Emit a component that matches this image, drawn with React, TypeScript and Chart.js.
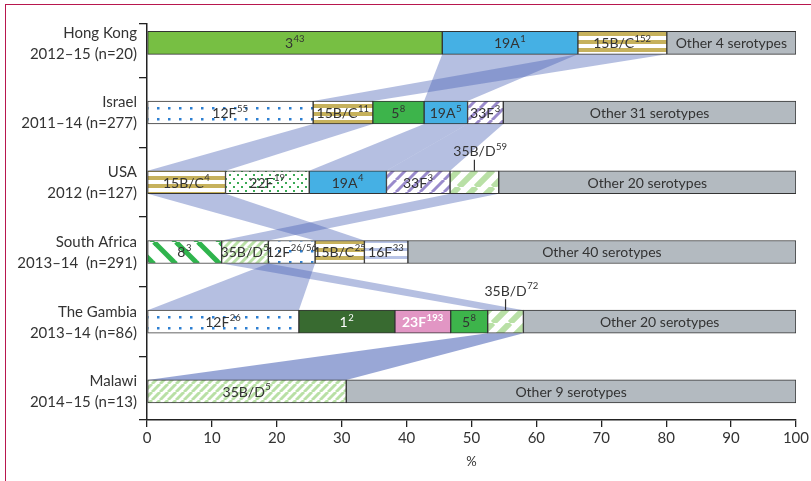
import { useEffect, useRef } from 'react'
import { Chart, registerables } from 'chart.js'

Chart.register(...registerables)

// serotype, superscript, % of isolates
type Seg = [string, string, number]

const FONT = 'Lato, "Open Sans", sans-serif'
const INK = '#333'

const countries = [
  ['Hong Kong', '2012–15 (n=20)'],
  ['Israel', '2011–14 (n=277)'],
  ['USA', '2012 (n=127)'],
  ['South Africa', '2013–14  (n=291)'],
  ['The Gambia', '2013–14 (n=86)'],
  ['Malawi', '2014–15 (n=13)'],
]

const hongKong: Seg[] = [['3', '43', 45.5], ['19A', '1', 20.9], ['15B/C', '152', 13.7], ['Other 4 serotypes', '', 19.9]]
const israel: Seg[] = [['12F', '55', 25.6], ['15B/C', '11', 9.2], ['5', '8', 7.9], ['19A', '5', 6.7], ['33F', '3', 5.5], ['Other 31 serotypes', '', 45.1]]
const usa: Seg[] = [['15B/C', '4', 12.1], ['22F', '19', 12.9], ['19A', '4', 11.9], ['33F', '3', 9.8], ['35B/D', '59', 7.5], ['Other 20 serotypes', '', 45.8]]
const southAfrica: Seg[] = [['8', '3', 11.5], ['35B/D', '5', 7.2], ['12F', '26/56', 7.2], ['15B/C', '25', 7.6], ['16F', '33', 6.7], ['Other 40 serotypes', '', 59.8]]
const gambia: Seg[] = [['12F', '26', 23.4], ['1', '2', 14.8], ['23F', '193', 8.6], ['5', '8', 5.7], ['35B/D', '72', 5.5], ['Other 20 serotypes', '', 42.0]]
const malawi: Seg[] = [['35B/D', '5', 30.7], ['Other 9 serotypes', '', 69.3]]

const rows = [hongKong, israel, usa, southAfrica, gambia, malawi]

// serotype, from row, to row, opacity
const links: [string, number, number, number][] = [
  ['19A', 0, 1, 0.4], ['15B/C', 0, 1, 0.4],
  ['15B/C', 1, 2, 0.4], ['19A', 1, 2, 0.4], ['33F', 1, 2, 0.4],
  ['15B/C', 2, 3, 0.4], ['35B/D', 2, 3, 0.4],
  ['12F', 3, 4, 0.4], ['35B/D', 3, 4, 0.4],
  ['35B/D', 4, 5, 0.55],
]

// labels written above the bar instead of inside
const callouts: [number, string][] = [[2, '35B/D'], [4, '35B/D']]

const xTicks = [0, 10, 20, 30, 40, 50, 60, 70, 80, 90, 100]
const yTicks = [-0.27, 0.5, 1.5, 2.5, 3.5, 4.5, 5.41]

function tile(w: number, h: number, paint: (g: CanvasRenderingContext2D) => void) {
  const c = document.createElement('canvas')
  c.width = w
  c.height = h
  const g = c.getContext('2d')!
  g.fillStyle = '#fff'
  g.fillRect(0, 0, w, h)
  paint(g)
  return g.createPattern(c, 'repeat')!
}

const hStripes = (color: string, period: number, band: number) =>
  tile(4, period, (g) => { g.fillStyle = color; g.fillRect(0, 0, 4, band) })

const diag = (color: string, p: number, lw: number, up: boolean) =>
  tile(p, p, (g) => {
    g.strokeStyle = color
    g.lineWidth = lw
    for (let k = -1; k <= 1; k++) {
      g.beginPath()
      if (up) { g.moveTo(k * p, p); g.lineTo(k * p + p, 0) } else { g.moveTo(k * p, 0); g.lineTo(k * p + p, p) }
      g.stroke()
    }
  })

const grid = (color: string, w: number, h: number, s: number, dy: number) =>
  tile(w, h, (g) => { g.fillStyle = color; g.fillRect(3, dy, s, s) })

const dots = (color: string, w: number, h: number, s: number) =>
  tile(w, h, (g) => {
    g.fillStyle = color
    g.fillRect(1, 2, s, s)
    g.fillRect(Math.round(w / 2) + 1, Math.round(h / 2) + 2, s, s)
  })

export default function App() {
  const canvasRef = useRef<HTMLCanvasElement>(null)
  const chartRef = useRef<Chart | null>(null)

  useEffect(() => {
    if (!canvasRef.current) return

    const fills: Record<string, any> = {
      '3': '#77bf43',
      '19A': '#45b0e4',
      '15B/C': hStripes('#c6b15c', 8, 4),
      '12F': grid('#2d7fd1', 11, 11, 2.5, 8),
      '5': '#3db44b',
      '33F': diag('#9a8bcc', 12, 3, true),
      '22F': dots('#3aaa55', 8, 8, 2),
      '35B/D': diag('#b9e0a6', 8, 3, true),
      '35B/D wide': diag('#b9e0a6', 17, 6, true),
      '8': diag('#2fb44d', 22, 5, false),
      '16F': hStripes('#b7c3e6', 8, 3),
      '1': '#386a30',
      '23F': '#e296c4',
    }
    const fillFor = (seg: Seg | undefined, row: number) => {
      if (!seg) return '#b3bac0'
      if (seg[0] === '35B/D' && (row === 2 || row === 4)) return fills['35B/D wide']
      return fills[seg[0]] ?? '#b3bac0'
    }

    const box = (chart: Chart, row: number, type: string) => {
      const k = rows[row].findIndex((s) => s[0] === type)
      if (k < 0) return null
      const j = (chart.data.datasets[k].data as any[]).findIndex((p) => p.y === row)
      const el: any = chart.getDatasetMeta(k).data[j]
      const p = el.getProps(['x', 'base', 'y', 'height'], true)
      return { l: Math.min(p.x, p.base), r: Math.max(p.x, p.base), t: p.y - p.height / 2, b: p.y + p.height / 2, y: p.y }
    }

    const drawLabel = (g: CanvasRenderingContext2D, text: string, sup: string, cx: number, cy: number, color: string, bold: boolean, centreMain: boolean) => {
      const big = `${bold ? 'bold ' : ''}14px ${FONT}`
      const small = `${bold ? 'bold ' : ''}9.5px ${FONT}`
      g.font = big
      const w1 = g.measureText(text).width
      g.font = small
      const w2 = sup ? g.measureText(sup).width + 1 : 0
      const x0 = centreMain ? cx - w1 / 2 : cx - (w1 + w2) / 2
      g.fillStyle = color
      g.textAlign = 'left'
      g.textBaseline = 'middle'
      g.font = big
      g.fillText(text, x0, cy)
      if (sup) {
        g.font = small
        g.fillText(sup, x0 + w1 + 0.5, cy - 5)
      }
    }

    const serotypePlugin = {
      id: 'serotypes',
      beforeDatasetsDraw(chart: Chart) {
        const g = chart.ctx
        g.save()
        links.forEach(([type, from, to, alpha]) => {
          const a = box(chart, from, type)
          const b = box(chart, to, type)
          if (!a || !b) return
          g.fillStyle = `rgba(70,95,180,${alpha})`
          g.beginPath()
          g.moveTo(a.l, a.b)
          g.lineTo(a.r, a.b)
          g.lineTo(b.r, b.t)
          g.lineTo(b.l, b.t)
          g.closePath()
          g.fill()
        })
        g.restore()
      },
      afterDatasetsDraw(chart: Chart) {
        const g = chart.ctx
        g.save()
        rows.forEach((segs, row) => {
          segs.forEach(([type, sup]) => {
            const bx = box(chart, row, type)
            if (!bx) return
            const cx = (bx.l + bx.r) / 2
            const above = callouts.some(([r, t]) => r === row && t === type)
            if (above) {
              g.strokeStyle = INK
              g.lineWidth = 1.2
              g.beginPath()
              g.moveTo(cx, bx.t - 11)
              g.lineTo(cx, bx.t)
              g.stroke()
              drawLabel(g, type, sup, cx, bx.t - 19, INK, false, true)
              return
            }
            const white = type === '1' || type === '23F'
            drawLabel(g, type, sup, cx, bx.y + 1, white ? '#fff' : INK, type === '23F', false)
          })
        })
        // country names to the left of the axis
        const y = chart.scales.y
        g.fillStyle = INK
        g.textAlign = 'right'
        g.textBaseline = 'middle'
        g.font = `15px ${FONT}`
        countries.forEach(([name, years], i) => {
          const py = y.getPixelForValue(i)
          g.fillText(name, 137, py - 10)
          g.fillText(years, 137, py + 11)
        })
        g.restore()
      },
    }

    const datasets = [0, 1, 2, 3, 4, 5].map((k) => ({
      label: 'slot ' + k,
      data: rows.flatMap((r, i) => (r[k] ? [{ x: r[k][2], y: i }] : [])),
      backgroundColor: (c: any) => (c.raw ? fillFor(rows[c.raw.y][k], c.raw.y) : '#b3bac0'),
      borderColor: '#333',
      borderWidth: 1,
      borderSkipped: false as const,
      barThickness: 23,
    }))

    chartRef.current?.destroy()
    chartRef.current = new Chart(canvasRef.current, {
      type: 'bar',
      data: { datasets: datasets as any },
      options: {
        indexAxis: 'y',
        animation: false,
        responsive: false,
        layout: { padding: { left: 137, top: 24, right: 15, bottom: 11 } },
        plugins: { legend: { display: false }, tooltip: { enabled: false } },
        scales: {
          x: {
            type: 'linear',
            stacked: true,
            min: 0,
            max: 100,
            afterBuildTicks: (s: any) => { s.ticks = xTicks.map((v) => ({ value: v })) },
            afterFit: (s: any) => { s.height = 50 },
            grid: { drawOnChartArea: false, drawTicks: true, tickLength: 7, color: '#222', lineWidth: 1.3 },
            border: { display: true, color: '#222', width: 1.5 },
            ticks: { color: INK, font: { family: FONT, size: 15 }, padding: 2 },
            title: { display: true, text: '%', color: INK, font: { family: FONT, size: 13 }, padding: 0 },
          },
          y: {
            type: 'linear',
            stacked: true,
            reverse: true,
            offset: false,
            min: yTicks[0],
            max: yTicks[yTicks.length - 1],
            afterBuildTicks: (s: any) => { s.ticks = yTicks.map((v) => ({ value: v })) },
            afterFit: (s: any) => { s.width = 10 },
            grid: { offset: false, drawOnChartArea: false, drawTicks: true, tickLength: 8, color: '#222', lineWidth: 1.3 },
            border: { display: true, color: '#222', width: 1.5 },
            ticks: { display: false },
          },
        },
      },
      plugins: [serotypePlugin],
    })
    return () => { chartRef.current?.destroy() }
  }, [])

  return (
    <div style={{ position: 'fixed', left: 0, top: 0, width: 811, height: 481, background: '#fff', overflow: 'hidden' }}>
      <div style={{ position: 'absolute', left: 5, top: 4, right: 0, height: 1, background: '#b8174e' }} />
      <div style={{ position: 'absolute', left: 5, top: 4, bottom: 0, width: 1, background: '#b8174e' }} />
      <canvas ref={canvasRef} width={811} height={481} style={{ position: 'absolute', left: 0, top: 0 }} />
    </div>
  )
}
